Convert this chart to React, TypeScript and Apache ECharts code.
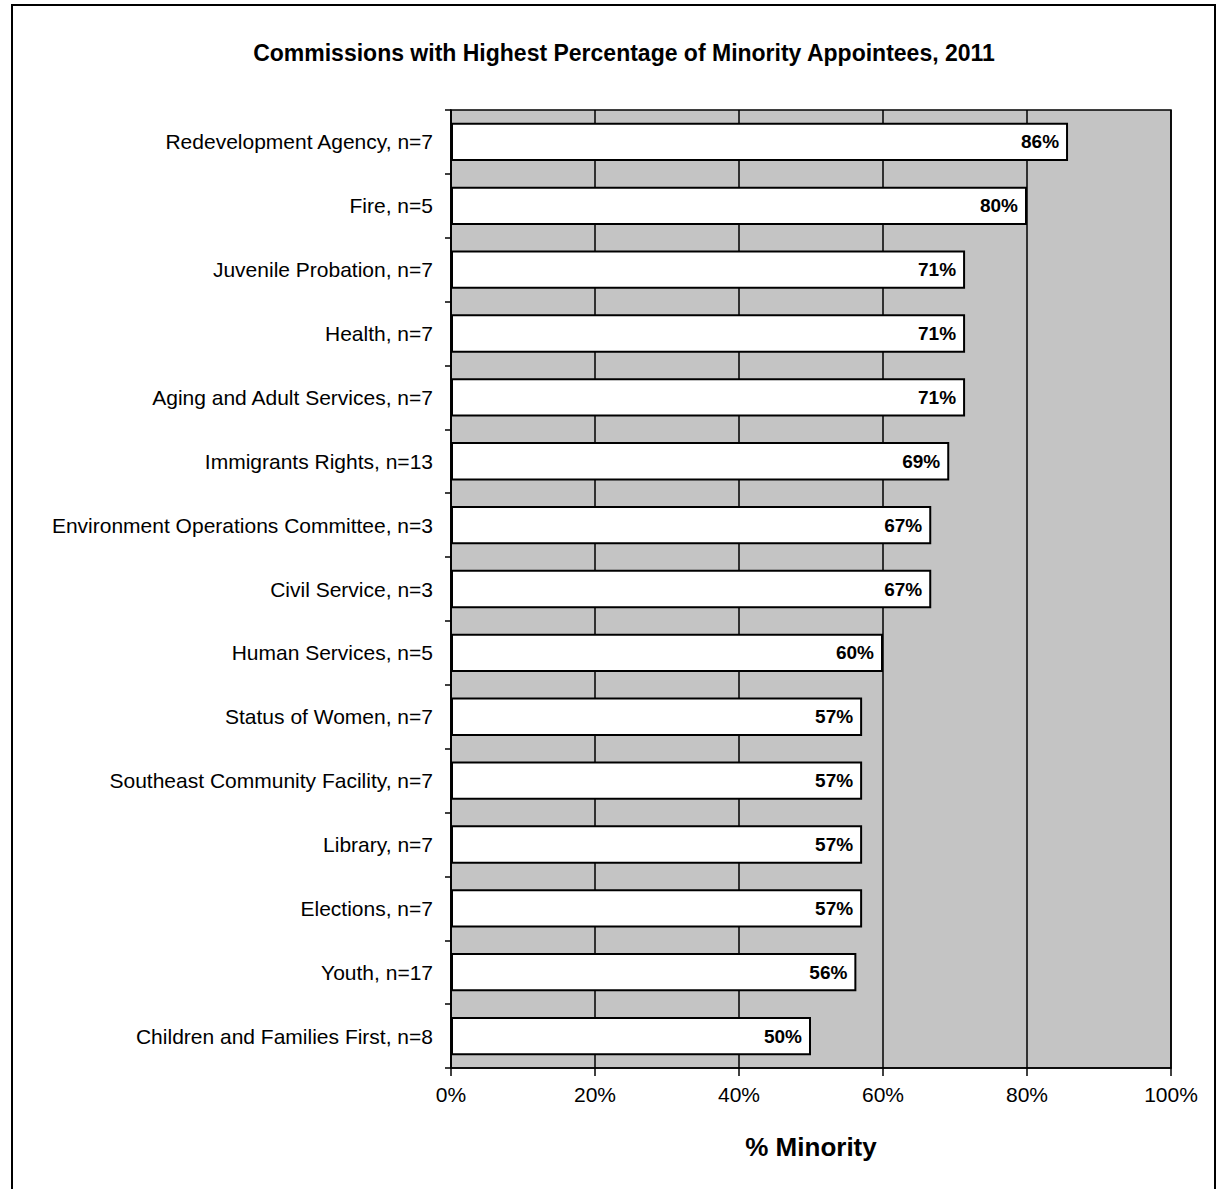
import React, { useEffect, useRef } from "react";
import * as echarts from "echarts";

const categories = [
  "Redevelopment Agency, n=7",
  "Fire, n=5",
  "Juvenile Probation, n=7",
  "Health, n=7",
  "Aging and Adult Services, n=7",
  "Immigrants Rights, n=13",
  "Environment Operations Committee, n=3",
  "Civil Service, n=3",
  "Human Services, n=5",
  "Status of Women, n=7",
  "Southeast Community Facility, n=7",
  "Library, n=7",
  "Elections, n=7",
  "Youth, n=17",
  "Children and Families First, n=8",
];

const values = [85.7, 80, 71.4, 71.4, 71.4, 69.2, 66.7, 66.7, 60, 57.1, 57.1, 57.1, 57.1, 56.3, 50];

const titleText = "Commissions with Highest Percentage of Minority Appointees, 2011";
const axisName = "% Minority";

const FONT = "'Liberation Sans', Arial, Helvetica, sans-serif";

export default function App() {
  const ref = useRef<HTMLDivElement>(null);

  useEffect(() => {
    if (!ref.current) return;
    const chart = echarts.init(ref.current, null, { renderer: "svg" });
    chart.setOption({
      animation: false,
      backgroundColor: "#ffffff",
      title: {
        text: titleText,
        left: 619,
        textAlign: "center",
        top: 36,
        textStyle: { fontFamily: FONT, fontWeight: "bold", fontSize: 23, color: "#000" },
      },
      graphic: [
        {
          type: "rect",
          shape: { x: 12, y: 5, width: 1203, height: 1210 },
          style: { fill: "none", stroke: "#000", lineWidth: 2 },
          silent: true,
        },
      ],
      grid: {
        left: 451,
        right: 46,
        top: 110,
        bottom: 121,
        show: true,
        backgroundColor: "#c4c4c4",
        borderColor: "#000",
        borderWidth: 1.5,
      },
      xAxis: {
        type: "value",
        min: 0,
        max: 100,
        interval: 20,
        name: axisName,
        nameLocation: "middle",
        nameGap: 66,
        nameTextStyle: { fontFamily: FONT, fontWeight: "bold", fontSize: 26, color: "#000" },
        axisLine: { show: true, lineStyle: { color: "#000", width: 1.5 } },
        axisTick: { show: true, length: 8, lineStyle: { color: "#000", width: 1.5 } },
        axisLabel: {
          fontFamily: FONT,
          fontSize: 21,
          color: "#000",
          margin: 16,
          formatter: (v: number) => `${v}%`,
        },
        splitLine: { show: true, lineStyle: { color: "#000", width: 1.5 } },
      },
      yAxis: {
        type: "category",
        data: categories,
        inverse: true,
        axisLine: { show: true, lineStyle: { color: "#000", width: 1.5 } },
        axisTick: { show: true, length: 6, lineStyle: { color: "#000", width: 1.5 } },
        axisLabel: { fontFamily: FONT, fontSize: 21, color: "#000", margin: 18 },
      },
      series: [
        {
          type: "bar",
          data: values,
          barWidth: "60%",
          itemStyle: { color: "#ffffff", borderColor: "#000", borderWidth: 2 },
          label: {
            show: true,
            position: "insideRight",
            distance: 9,
            fontFamily: FONT,
            fontWeight: "bold",
            fontSize: 19,
            color: "#000",
            formatter: (p: any) => `${Math.round(p.value)}%`,
          },
        },
      ],
    });
    return () => chart.dispose();
  }, []);

  return (
    <div
      ref={ref}
      style={{ position: "absolute", left: 0, top: 0, width: 1217, height: 1189 }}
    />
  );
}
